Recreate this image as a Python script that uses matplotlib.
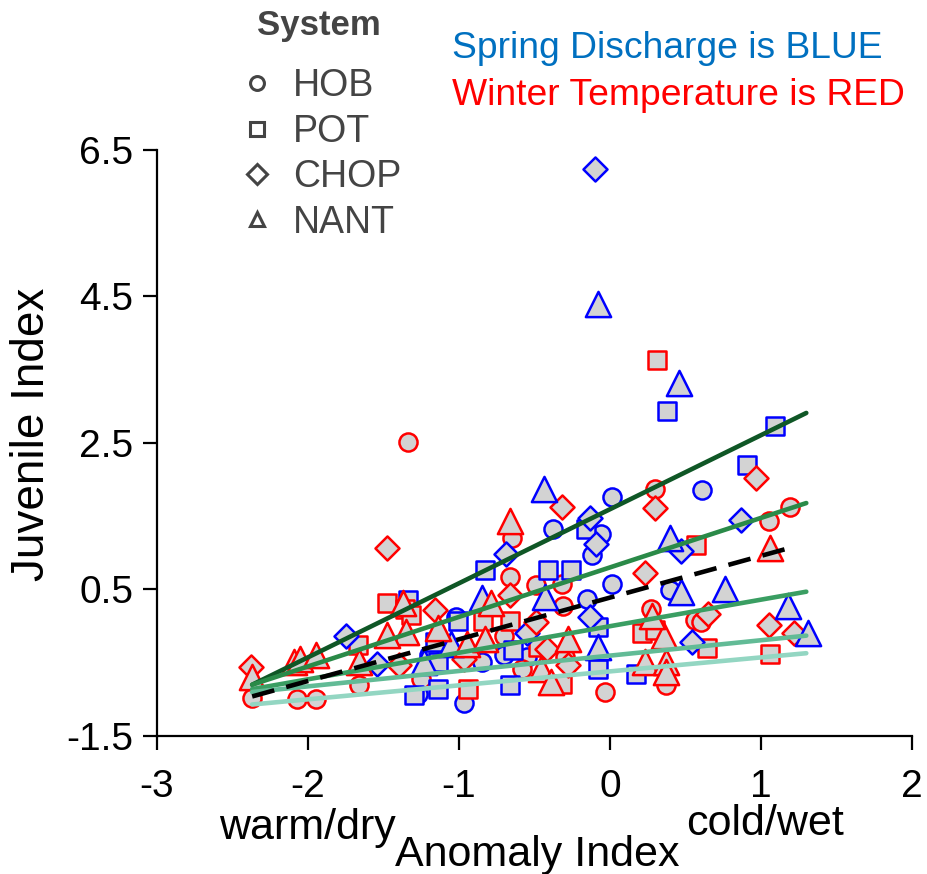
import matplotlib
matplotlib.use("Agg")
import matplotlib.pyplot as plt
from matplotlib.lines import Line2D

plt.rcParams['font.family'] = ['Liberation Sans', 'DejaVu Sans']
plt.rcParams['axes.unicode_minus'] = False

# anomaly index (x) and juvenile index (y), by system and season
hob_spring_x = [-0.38, -0.06, -0.12, 0.01, 0.61, 0.01, 0.40, -0.15, -1.02, -0.85, -0.70, -0.97, -1.27, -0.55, -1.20]
hob_spring_y = [1.32, 1.26, 0.97, 1.76, 1.86, 0.58, 0.49, 0.37, 0.13, -0.49, -0.39, -1.05, -0.93, -0.42, -0.40]
hob_winter_x = [-1.34, -0.65, 0.30, 1.05, 1.19, -0.66, -0.49, -0.32, -0.31, 0.27, 0.56, 0.60, -0.70, -0.58,
                -0.03, 0.37, -2.37, -2.07, -1.95, -1.66, -1.25, -0.30]
hob_winter_y = [2.52, 1.20, 1.87, 1.43, 1.62, 0.67, 0.56, 0.57, 0.27, 0.24, 0.09, 0.06, -0.14, -0.58,
                -0.90, -0.80, -0.98, -0.99, -0.99, -0.80, -0.72, -0.42]
pot_spring_x = [0.38, 1.09, 0.91, -0.16, -0.83, -0.41, -0.26, -1.34, -1.01, -0.08, -1.16, -0.64, -1.14,
                -1.14, -1.30, -0.66, -0.08, 0.17]
pot_spring_y = [2.94, 2.73, 2.20, 1.33, 0.77, 0.76, 0.76, 0.35, 0.07, -0.01, -0.21, -0.32, -0.49,
                -0.86, -0.94, -0.80, -0.58, -0.65]
pot_winter_x = [0.31, 0.57, 1.06, 0.64, 0.21, -1.48, -1.36, -1.32, -0.84, -0.66, -0.48, -0.94, -0.32, -1.67, 0.30]
pot_winter_y = [3.63, 1.11, -0.38, -0.30, -0.10, 0.31, 0.24, 0.15, 0.07, 0.07, -0.28, -0.86, -0.79, -0.26, -0.05]
chop_spring_x = [-0.10, -0.13, -0.09, -0.69, 0.47, 0.87, -0.13, 0.54, -1.75, -1.54, -0.55]
chop_spring_y = [6.24, 1.47, 1.12, 0.99, 1.03, 1.45, 0.12, -0.21, -0.14, -0.52, -0.10]
chop_winter_x = [-1.48, -0.32, 0.30, 0.97, 0.23, -1.16, -0.49, -0.42, -0.97, -0.28, 1.05, 1.22, 0.65,
                 -2.38, -1.40, -0.66]
chop_winter_y = [1.07, 1.63, 1.61, 2.02, 0.73, 0.22, 0.06, -0.31, -0.45, -0.53, 0.02, -0.10, 0.16,
                 -0.56, -0.53, 0.43]
nant_spring_x = [-0.08, 0.46, -0.44, 0.40, 0.47, 0.76, 1.18, 1.31, -0.43, -0.85, -1.05, -1.23, -0.08]
nant_spring_y = [4.40, 3.32, 1.87, 1.20, 0.47, 0.51, 0.27, -0.10, 0.40, 0.38, -0.25, -0.49, -0.28]
nant_winter_x = [-0.66, 1.06, -0.79, -1.14, -1.35, -0.95, -0.83, -0.46, -0.28, 0.36, 0.23, 0.37, 0.37,
                 -2.37, -2.09, -2.05, -1.95, -1.48, -1.66, -0.39, 0.28, -1.37]
nant_winter_y = [1.43, 1.06, 0.31, -0.03, -0.08, -0.25, -0.17, -0.58, -0.17, -0.14, -0.49, -0.49, -0.62,
                 -0.70, -0.49, -0.45, -0.39, -0.12, -0.49, -0.76, 0.14, 0.31]

# fitted lines: x range and y at both ends
fit_x = [-2.37, 1.30]
fit_y_start = [-0.80, -0.80, -0.86, -0.90, -1.07]
fit_y_end = [2.91, 1.68, 0.47, -0.13, -0.37]
fit_colors = ['#0f5726', '#2a8a48', '#3a9e62', '#62bb96', '#93d6c2']
overall_x = [-2.37, 1.23]
overall_y = [-0.96, 1.09]

systems = ['HOB', 'POT', 'CHOP', 'NANT']
markers = {'HOB': 'o', 'POT': 's', 'CHOP': 'D', 'NANT': '^'}
sizes = {'HOB': 170, 'POT': 170, 'CHOP': 150, 'NANT': 330}

series = [
    ('HOB', 'blue', hob_spring_x, hob_spring_y), ('HOB', 'red', hob_winter_x, hob_winter_y),
    ('POT', 'blue', pot_spring_x, pot_spring_y), ('POT', 'red', pot_winter_x, pot_winter_y),
    ('CHOP', 'blue', chop_spring_x, chop_spring_y), ('CHOP', 'red', chop_winter_x, chop_winter_y),
    ('NANT', 'blue', nant_spring_x, nant_spring_y), ('NANT', 'red', nant_winter_x, nant_winter_y),
]

fig = plt.figure(figsize=(9.27, 8.74), dpi=100)
ax = fig.add_axes([0.1694, 0.1579, 0.8144, 0.6705])

for sysname, col, xs, ys in series:
    ax.scatter(xs, ys, marker=markers[sysname], s=sizes[sysname], facecolor='#d3d3d3',
               edgecolors=col, linewidths=1.8, zorder=2)

for y0, y1, c in zip(fit_y_start, fit_y_end, fit_colors):
    ax.plot(fit_x, [y0, y1], color=c, lw=3.3, zorder=3, solid_capstyle='round')
ax.plot(overall_x, overall_y, color='black', lw=3.3, ls=(0, (5, 2.7)), zorder=3)

ax.set_xlim(-3, 2)
ax.set_ylim(-1.5, 6.5)
ax.set_xticks([-3, -2, -1, 0, 1, 2])
ax.set_yticks([-1.5, 0.5, 2.5, 4.5, 6.5])
ax.set_yticklabels(['-1.5', '0.5', '2.5', '4.5', '6.5'])
ax.spines['top'].set_visible(False)
ax.spines['right'].set_visible(False)
for sp in ['left', 'bottom']:
    ax.spines[sp].set_linewidth(1.6)
ax.tick_params(axis='both', labelsize=28, length=10, width=1.6, direction='out')
ax.tick_params(axis='x', pad=14)
ax.tick_params(axis='y', pad=7)

fig.text(0.034, 0.503, 'Juvenile Index', rotation=90, ha='center', va='center', fontsize=33)
fig.text(0.332, 0.053, 'warm/dry', ha='center', va='center', fontsize=31)
fig.text(0.580, 0.022, 'Anomaly Index', ha='center', va='center', fontsize=31)
fig.text(0.825, 0.057, 'cold/wet', ha='center', va='center', fontsize=31)

fig.text(0.4876, 0.945, 'Spring Discharge is BLUE', color='#0070c0', ha='left', va='center', fontsize=26.8)
fig.text(0.4876, 0.891, 'Winter Temperature is RED', color='#ff0000', ha='left', va='center', fontsize=26.8)

# legend for the systems, title written separately
fig.text(0.344, 0.971, 'System', ha='center', va='center', fontsize=25, fontweight='bold', color='#444444')
handles = [Line2D([], [], ls='none', marker=markers[s], ms=10, mfc='white', mec='#444444', mew=2.2)
           for s in systems]
fig.legend(handles, systems, loc='center left', bbox_to_anchor=(0.221, 0.8232),
           frameon=False, fontsize=27, labelspacing=0.25,
           handletextpad=0.45, handlelength=1.0, labelcolor='#444444')

fig.savefig('out.png', dpi=100)
